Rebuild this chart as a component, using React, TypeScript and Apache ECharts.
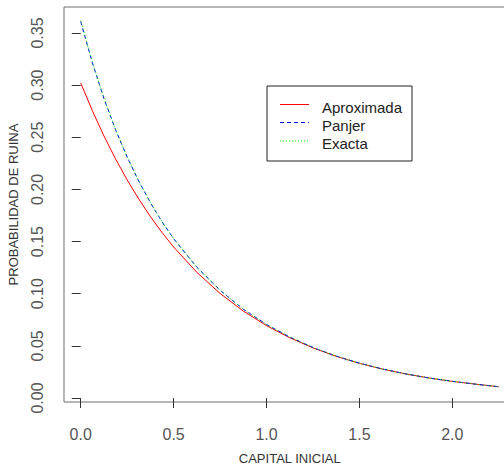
import React, { useEffect, useRef } from 'react';
import * as echarts from 'echarts';

// Capital inicial (x) values
const capital = [0, 0.0625, 0.125, 0.1875, 0.25, 0.3125, 0.375, 0.4375, 0.5, 0.625, 0.75, 0.875, 1.0, 1.125, 1.25, 1.375, 1.5, 1.625, 1.75, 1.875, 2.0, 2.125, 2.25];
// Probabilidad de ruina
const aproximada = [0.302, 0.2755, 0.2513, 0.2292, 0.2091, 0.1908, 0.174, 0.1587, 0.1448, 0.1205, 0.1003, 0.0834, 0.0694, 0.0578, 0.0481, 0.04, 0.0333, 0.0277, 0.0231, 0.0192, 0.016, 0.0133, 0.0108];
const panjer = [0.361, 0.3215, 0.2872, 0.2572, 0.231, 0.2078, 0.1873, 0.169, 0.1528, 0.1254, 0.1033, 0.0852, 0.0705, 0.0585, 0.0485, 0.0402, 0.0334, 0.0278, 0.0231, 0.0192, 0.016, 0.0133, 0.0108];
const exacta = [0.362, 0.3222, 0.2877, 0.2575, 0.2312, 0.208, 0.1874, 0.1691, 0.1529, 0.1254, 0.1033, 0.0852, 0.0705, 0.0585, 0.0485, 0.0402, 0.0334, 0.0278, 0.0231, 0.0192, 0.016, 0.0133, 0.0108];

const xTicks = [0, 0.5, 1.0, 1.5, 2.0];
const yTicks = [0, 0.05, 0.1, 0.15, 0.2, 0.25, 0.3, 0.35];
const legendNames = ['Aproximada', 'Panjer', 'Exacta'];

const FONT = '"Liberation Sans", Arial, sans-serif';

export default function App() {
  const ref = useRef<HTMLDivElement>(null);
  useEffect(() => {
    const chart = echarts.init(ref.current!, null, { renderer: 'svg' });
    const pair = (ys: number[]) => capital.map((x, i) => [x, ys[i]]);
    const colors = ['#ff0000', '#0000ff', '#00ff00'];
    const dashes: any[] = ['solid', [4, 3], [1, 2]];
    const legendRowsY = [104.5, 122.5, 141];
    const textRowsY = [107.5, 125.5, 143.5];
    const graphicEls: any[] = [
      {
        type: 'rect',
        shape: { x: 267, y: 86, width: 145, height: 75 },
        style: { fill: '#fff', stroke: '#222', lineWidth: 1 },
        z: 100,
      },
    ];
    legendNames.forEach((n, i) => {
      graphicEls.push({
        type: 'line',
        shape: { x1: 280, y1: legendRowsY[i], x2: 309, y2: legendRowsY[i] },
        style: { stroke: colors[i], lineWidth: 1, lineDash: dashes[i] === 'solid' ? null : dashes[i] },
        z: 101,
      });
      graphicEls.push({
        type: 'text',
        x: 322,
        y: textRowsY[i],
        style: { text: n, fill: '#222', font: `15px ${FONT}`, verticalAlign: 'middle', align: 'left' },
        z: 101,
      });
    });

    chart.setOption({
      animation: false,
      backgroundColor: '#fff',
      grid: {
        left: 64,
        top: 7,
        bottom: 64,
        right: -11.5,
        containLabel: false,
        outerBoundsMode: 'none',
        show: true,
        borderColor: '#6e6e6e',
        borderWidth: 1,
        backgroundColor: 'transparent',
      },
      xAxis: {
        type: 'value',
        min: -0.09,
        max: 2.34,
        name: 'CAPITAL INICIAL',
        nameLocation: 'middle',
        nameGap: 50,
        nameTextStyle: { fontFamily: FONT, fontSize: 13, color: '#333' },
        axisLine: { show: false },
        splitLine: { show: false },
        axisTick: { show: true, inside: false, length: 10, customValues: xTicks, lineStyle: { color: '#333' } },
        axisLabel: {
          customValues: xTicks,
          margin: 24,
          fontFamily: FONT,
          fontSize: 16,
          color: '#555',
          formatter: (v: number) => v.toFixed(1),
        },
      },
      yAxis: {
        type: 'value',
        min: -0.0038,
        max: 0.3749,
        name: 'PROBABILIDAD DE RUINA',
        nameLocation: 'middle',
        nameGap: 44,
        nameTextStyle: { fontFamily: FONT, fontSize: 13, color: '#333' },
        axisLine: { show: false },
        splitLine: { show: false },
        axisTick: { show: true, inside: false, length: 9, customValues: yTicks, lineStyle: { color: '#333' } },
        axisLabel: {
          customValues: yTicks,
          rotate: 90,
          margin: 19,
          fontFamily: FONT,
          fontSize: 16,
          color: '#555',
          formatter: (v: number) => v.toFixed(2),
        },
      },
      series: [
        { name: legendNames[0], type: 'line', data: pair(aproximada), showSymbol: false, lineStyle: { color: colors[0], width: 1, type: 'solid' } },
        { name: legendNames[1], type: 'line', data: pair(panjer), showSymbol: false, lineStyle: { color: colors[1], width: 1, type: dashes[1] } },
        { name: legendNames[2], type: 'line', data: pair(exacta), showSymbol: false, lineStyle: { color: colors[2], width: 1, type: dashes[2] } },
      ],
      graphic: { elements: graphicEls },
    });
    return () => chart.dispose();
  }, []);
  return <div ref={ref} style={{ position: 'fixed', left: 0, top: 0, width: 504, height: 466, background: '#fff' }} />;
}
